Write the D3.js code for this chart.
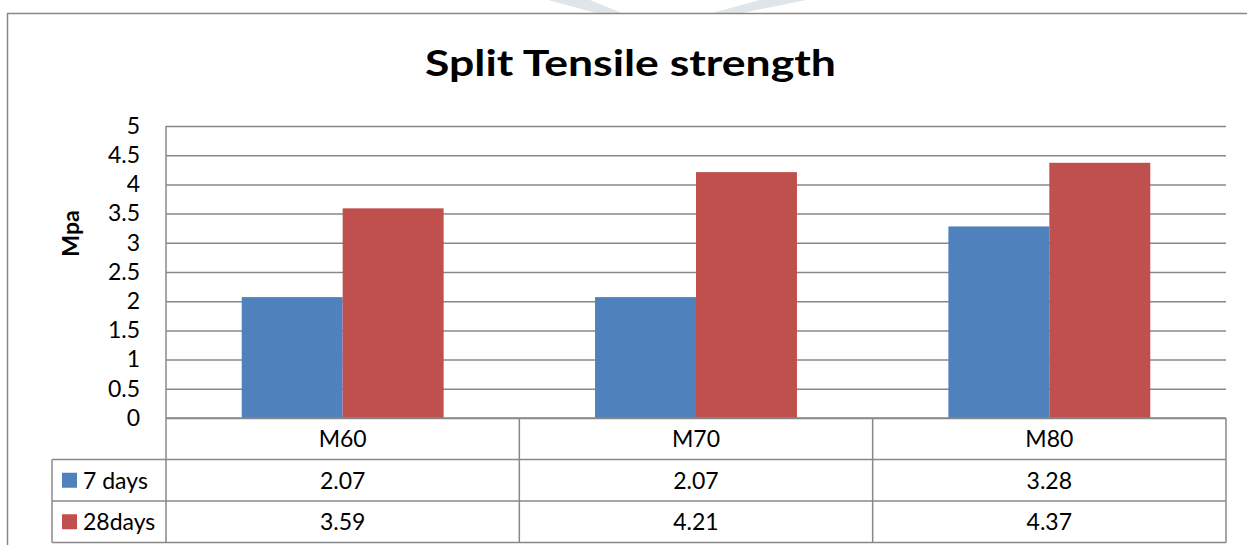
<!DOCTYPE html>
<html>
<head>
<meta charset="utf-8">
<script src="https://cdn.jsdelivr.net/npm/d3@7"></script>
<style>
  html, body { margin: 0; padding: 0; background: #ffffff; }
  svg { display: block; }
  text { font-family: Lato, "Open Sans", "Liberation Sans", sans-serif; fill: #000; }
</style>
</head>
<body>
<svg id="chart" width="1247" height="545"></svg>
<script>
// Data
const categories = ["M60", "M70", "M80"];
const seriesNames = ["7 days", "28days"];
const days7 = [2.07, 2.07, 3.28];
const days28 = [3.59, 4.21, 4.37];
const yTickValues = [0, 0.5, 1, 1.5, 2, 2.5, 3, 3.5, 4, 4.5, 5];
const seriesColors = ["#4F81BD", "#C0504D"];
const chartTitle = "Split Tensile strength";
const yAxisTitle = "Mpa";

const series = [days7, days28];

const svg = d3.select("#chart");
const W = 1247, H = 545;

// Layout
const plot = { left: 166, right: 1226, top: 126, bottom: 418 };
const tableRowH = 41.5;
const legendLeft = 52;
const gridColor = "#888888";
const labelSize = 23;

// faint decorative shapes along the top edge
const deco = svg.append("g").attr("fill", "#dfe5e8");
deco.append("path").attr("d", "M548,0 L590,0 L622,13 L596,13 Z");
deco.append("path").attr("d", "M760,0 L806,0 L742,13 L712,13 Z");

// Outer chart frame (extends past the right and bottom edges)
svg.append("path")
  .attr("d", `M7.5,${H + 5} L7.5,13.5 L${W + 5},13.5`)
  .attr("fill", "none")
  .attr("stroke", gridColor)
  .attr("stroke-width", 1.5);

// Scales
const y = d3.scaleLinear().domain([0, 5]).range([plot.bottom, plot.top]);
const x = d3.scaleBand().domain(categories).range([plot.left, plot.right]).padding(0);
const xInner = d3.scaleBand().domain(seriesNames).range([0, x.bandwidth()])
  .paddingInner(0).paddingOuter(0.75);

// Gridlines
const grid = svg.append("g")
  .attr("transform", `translate(${plot.left},0)`)
  .call(d3.axisLeft(y).tickValues(yTickValues).tickSize(-(plot.right - plot.left)).tickFormat(""));
grid.select(".domain").remove();
grid.selectAll("line").attr("stroke", gridColor).attr("stroke-width", 1.5);

// Y axis line
svg.append("line")
  .attr("x1", plot.left).attr("x2", plot.left)
  .attr("y1", plot.top).attr("y2", plot.bottom)
  .attr("stroke", gridColor).attr("stroke-width", 1.5);

// Y tick labels
const yAxis = svg.append("g")
  .attr("transform", `translate(${plot.left - 26},0)`)
  .call(d3.axisLeft(y).tickValues(yTickValues).tickSize(0).tickPadding(0).tickFormat(d3.format("")));
yAxis.select(".domain").remove();
yAxis.selectAll("text")
  .attr("font-size", labelSize)
  .attr("fill", "#000")
  .style("font-family", "Lato, 'Open Sans', sans-serif");

// Bars
const groups = svg.append("g").selectAll("g")
  .data(categories)
  .join("g")
  .attr("transform", d => `translate(${x(d)},0)`);

groups.selectAll("rect")
  .data((d, i) => seriesNames.map((s, k) => ({ s, k, v: series[k][i] })))
  .join("rect")
  .attr("x", d => xInner(d.s))
  .attr("width", xInner.bandwidth())
  .attr("y", d => y(d.v))
  .attr("height", d => y(0) - y(d.v))
  .attr("fill", d => seriesColors[d.k]);

// Data table
const rowTop = [plot.bottom, plot.bottom + tableRowH, plot.bottom + 2 * tableRowH, plot.bottom + 3 * tableRowH];
const tbl = svg.append("g").attr("stroke", gridColor).attr("stroke-width", 1.5).attr("fill", "none");
// horizontal lines
tbl.append("line").attr("x1", plot.left).attr("x2", plot.right).attr("y1", rowTop[0]).attr("y2", rowTop[0]);
[1, 2, 3].forEach(r => {
  tbl.append("line").attr("x1", legendLeft).attr("x2", plot.right).attr("y1", rowTop[r]).attr("y2", rowTop[r]);
});
// vertical lines
tbl.append("line").attr("x1", legendLeft).attr("x2", legendLeft).attr("y1", rowTop[1]).attr("y2", rowTop[3]);
const colEdges = categories.map(c => x(c)).concat([x(categories[categories.length - 1]) + x.bandwidth()]);
colEdges.forEach(cx => {
  tbl.append("line").attr("x1", cx).attr("x2", cx).attr("y1", rowTop[0]).attr("y2", rowTop[3]);
});

// Category header row
svg.append("g").selectAll("text")
  .data(categories)
  .join("text")
  .attr("x", d => x(d) + x.bandwidth() / 2)
  .attr("y", (rowTop[0] + rowTop[1]) / 2)
  .attr("dy", "0.36em")
  .attr("text-anchor", "middle")
  .attr("font-size", labelSize)
  .text(d => d);

// Series rows: legend key + values
const fmt = d3.format(".2f");
seriesNames.forEach((name, k) => {
  const cy = (rowTop[k + 1] + rowTop[k + 2]) / 2;
  svg.append("rect")
    .attr("x", 62).attr("y", cy - 7.5)
    .attr("width", 15).attr("height", 15)
    .attr("fill", seriesColors[k]);
  svg.append("text")
    .attr("x", 83).attr("y", cy).attr("dy", "0.36em")
    .attr("font-size", labelSize)
    .text(name);
  svg.append("g").selectAll("text")
    .data(series[k])
    .join("text")
    .attr("x", (d, i) => x(categories[i]) + x.bandwidth() / 2)
    .attr("y", cy).attr("dy", "0.36em")
    .attr("text-anchor", "middle")
    .attr("font-size", labelSize)
    .text(d => fmt(d));
});

// Title
svg.append("text")
  .attr("x", 630.5).attr("y", 76)
  .attr("text-anchor", "middle")
  .attr("font-size", 37)
  .attr("font-weight", "bold")
  .attr("textLength", 411)
  .attr("lengthAdjust", "spacingAndGlyphs")
  .text(chartTitle);

// Y axis title
svg.append("text")
  .attr("transform", "translate(79,233.5) rotate(-90)")
  .attr("text-anchor", "middle")
  .attr("font-size", 23)
  .attr("font-weight", "bold")
  .text(yAxisTitle);
</script>
</body>
</html>
